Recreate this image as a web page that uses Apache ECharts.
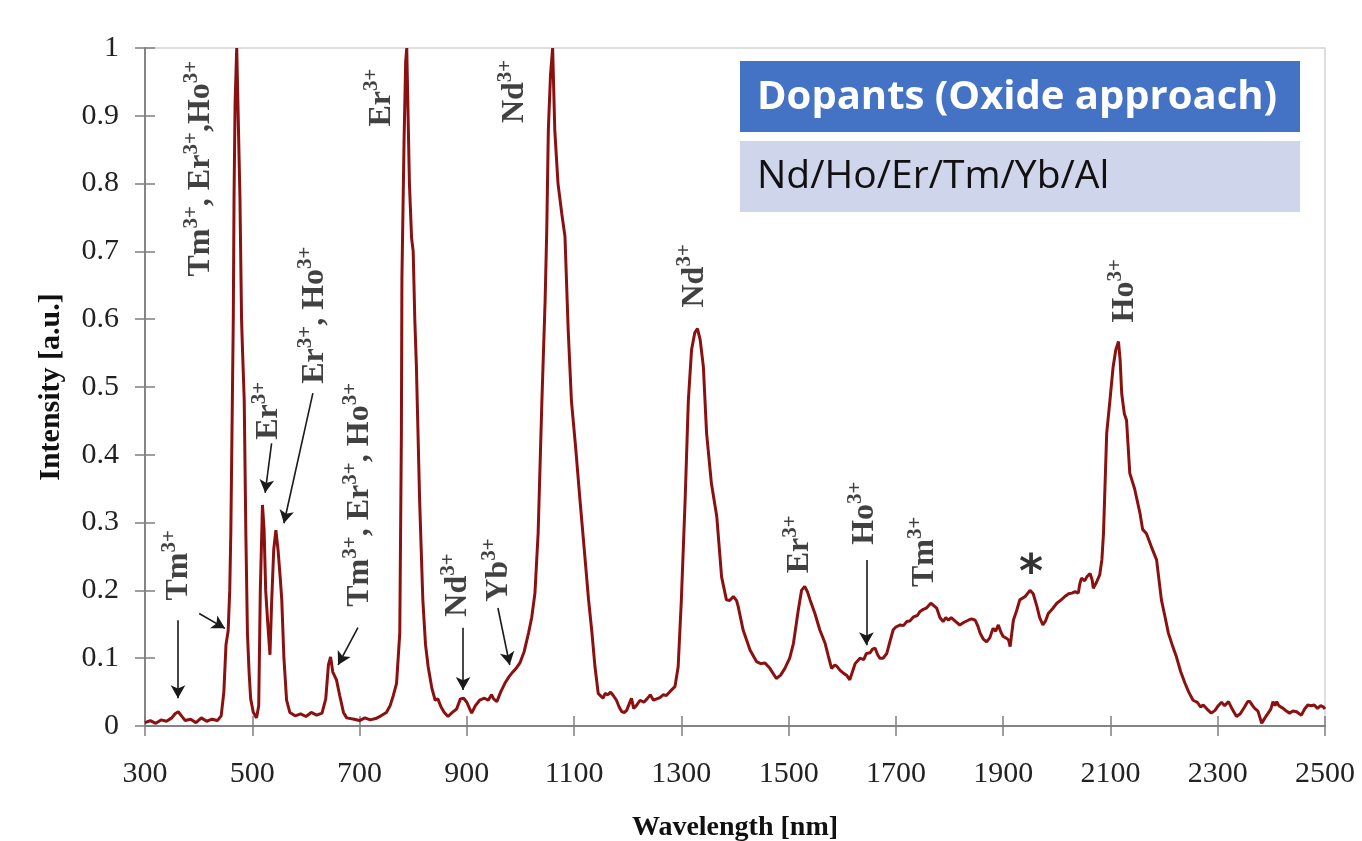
<!DOCTYPE html>
<html>
<head>
<meta charset="utf-8">
<script src="https://cdn.jsdelivr.net/npm/echarts@6/dist/echarts.min.js"></script>
<style>
  html, body { margin: 0; padding: 0; background: #fff; }
  #chart { width: 1362px; height: 841px; }
</style>
</head>
<body>
<div id="chart"></div>
<script>
// wavelength [nm] / intensity [a.u.]
const spectrum = [
  [300,0.005],[310,0.008],[320,0.004],[330,0.009],[340,0.007],[350,0.012],[356,0.018],[362,0.021],[368,0.015],[375,0.008],
  [385,0.010],[395,0.005],[405,0.012],[415,0.007],[425,0.010],[435,0.008],[442,0.015],[447,0.050],[451,0.120],[455,0.140],
  [458,0.200],[460,0.285],[464.6,0.600],[466,0.780],[468,0.920],[471,1.0],[474,1.0],[477,0.780],[480,0.600],[482,0.550],
  [485,0.480],[488,0.285],[491,0.137],[494,0.080],[497,0.040],[502,0.020],[508,0.012],[512,0.030],[515,0.200],[519,0.326],
  [522,0.290],[525,0.200],[529,0.150],[533,0.105],[536,0.180],[540,0.260],[544,0.289],[548,0.260],[552,0.220],[555,0.186],
  [559,0.100],[564,0.038],[570,0.020],[580,0.015],[590,0.018],[600,0.014],[610,0.020],[620,0.016],[630,0.019],[637,0.040],
  [642,0.090],[646,0.102],[650,0.080],[657,0.068],[663,0.045],[670,0.020],[676,0.012],[690,0.010],[700,0.008],[710,0.012],
  [720,0.009],[730,0.011],[740,0.015],[750,0.020],[757,0.030],[763,0.045],[769,0.063],[775,0.137],[778,0.430],[779,0.660],
  [783,0.864],[786,0.980],[788,1.0],[791,0.880],[793,0.800],[797,0.720],[800,0.700],[803,0.600],[806,0.530],[812,0.333],
  [818,0.186],[823,0.120],[828,0.087],[835,0.055],[841,0.038],[846,0.040],[852,0.028],[858,0.020],[865,0.014],[873,0.020],
  [881,0.025],[888,0.040],[894,0.041],[900,0.035],[905,0.026],[909,0.019],[916,0.030],[924,0.038],[933,0.041],[940,0.038],
  [946,0.046],[950,0.040],[956,0.036],[963,0.050],[971,0.063],[978,0.072],[984,0.078],[992,0.085],[999,0.093],[1007,0.110],
  [1015,0.137],[1021,0.160],[1027,0.196],[1033,0.285],[1040,0.480],[1046,0.628],[1049,0.730],[1052,0.879],[1056,0.960],[1060,1.0],
  [1064,0.879],[1070,0.800],[1077,0.756],[1083,0.722],[1089,0.584],[1095,0.480],[1103,0.410],[1111,0.333],[1119,0.260],[1127,0.186],
  [1133,0.140],[1139,0.087],[1145,0.048],[1150,0.044],[1154,0.041],[1158,0.048],[1163,0.046],[1168,0.050],[1173,0.045],[1179,0.038],
  [1184,0.028],[1189,0.021],[1194,0.020],[1198,0.023],[1203,0.033],[1207,0.041],[1211,0.026],[1216,0.030],[1223,0.038],[1230,0.035],
  [1236,0.040],[1242,0.046],[1248,0.038],[1254,0.040],[1260,0.042],[1266,0.046],[1272,0.045],[1279,0.051],[1288,0.058],[1294,0.087],
  [1300,0.186],[1307,0.333],[1313,0.480],[1319,0.555],[1325,0.580],[1330,0.586],[1335,0.570],[1341,0.530],[1347,0.432],[1356,0.358],
  [1366,0.309],[1375,0.220],[1384,0.186],[1390,0.185],[1397,0.191],[1403,0.185],[1406,0.176],[1415,0.142],[1428,0.112],[1440,0.095],
  [1448,0.092],[1456,0.093],[1465,0.085],[1477,0.070],[1485,0.075],[1493,0.085],[1502,0.100],[1509,0.122],[1518,0.171],[1524,0.200],
  [1530,0.206],[1535,0.198],[1540,0.186],[1549,0.166],[1558,0.142],[1568,0.122],[1574,0.103],[1580,0.085],[1586,0.090],[1590,0.088],
  [1596,0.082],[1602,0.078],[1608,0.075],[1614,0.068],[1619,0.080],[1624,0.092],[1633,0.100],[1640,0.098],[1645,0.107],[1652,0.108],
  [1656,0.113],[1661,0.115],[1666,0.105],[1670,0.100],[1676,0.100],[1683,0.107],[1689,0.125],[1695,0.142],[1700,0.146],[1708,0.149],
  [1714,0.148],[1720,0.154],[1726,0.155],[1733,0.161],[1740,0.163],[1745,0.169],[1751,0.172],[1757,0.174],[1765,0.181],[1770,0.178],
  [1776,0.174],[1782,0.160],[1788,0.154],[1793,0.160],[1798,0.156],[1803,0.160],[1810,0.155],[1819,0.149],[1827,0.153],[1835,0.156],
  [1841,0.158],[1848,0.156],[1853,0.147],[1857,0.137],[1863,0.128],[1869,0.124],[1875,0.130],[1881,0.144],[1886,0.140],[1891,0.149],
  [1896,0.138],[1900,0.132],[1905,0.130],[1910,0.127],[1913,0.117],[1919,0.156],[1925,0.170],[1931,0.186],[1941,0.191],[1946,0.196],
  [1950,0.200],[1956,0.195],[1963,0.176],[1968,0.160],[1974,0.149],[1979,0.155],[1984,0.166],[1992,0.173],[2000,0.181],[2008,0.186],
  [2015,0.191],[2022,0.195],[2028,0.196],[2034,0.198],[2040,0.196],[2043,0.210],[2046,0.218],[2052,0.214],[2056,0.220],[2062,0.225],
  [2066,0.215],[2068,0.203],[2074,0.212],[2080,0.223],[2084,0.245],[2087,0.284],[2093,0.432],[2099,0.480],[2105,0.530],[2110,0.555],
  [2115,0.567],[2118,0.540],[2121,0.490],[2126,0.460],[2130,0.451],[2136,0.373],[2145,0.350],[2155,0.314],[2160,0.290],[2167,0.284],
  [2176,0.265],[2186,0.245],[2195,0.186],[2202,0.160],[2208,0.137],[2215,0.120],[2223,0.102],[2231,0.080],[2239,0.063],[2246,0.050],
  [2254,0.038],[2262,0.035],[2268,0.028],[2273,0.031],[2280,0.025],[2288,0.019],[2295,0.023],[2301,0.030],[2307,0.035],[2313,0.030],
  [2320,0.036],[2327,0.025],[2335,0.014],[2342,0.018],[2350,0.028],[2356,0.036],[2360,0.036],[2365,0.030],[2369,0.026],[2375,0.022],
  [2382,0.004],[2388,0.012],[2394,0.019],[2399,0.025],[2403,0.036],[2407,0.030],[2410,0.036],[2414,0.030],[2422,0.026],[2428,0.022],
  [2434,0.019],[2440,0.022],[2447,0.021],[2452,0.018],[2456,0.016],[2462,0.025],[2468,0.031],[2474,0.030],[2480,0.031],[2486,0.026],
  [2492,0.030],[2497,0.028],[2500,0.025]
];

const xTicks = [300, 500, 700, 900, 1100, 1300, 1500, 1700, 1900, 2100, 2300, 2500];

// peak labels: rich text, [wavelength, intensity] of the label centre
const peakLabels = [
  { text: '{m|Tm}{s|3+}', at: [363, 0.237] },
  { text: '{m|Tm}{s|3+}{m|, Er}{s|3+}{m|,Ho}{s|3+}', at: [404, 0.822] },
  { text: '{m|Er}{s|3+}', at: [531, 0.465] },
  { text: '{m|Er}{s|3+}{m|, Ho}{s|3+}', at: [617, 0.606] },
  { text: '{m|Tm}{s|3+}{m|, Er}{s|3+}{m|, Ho}{s|3+}', at: [701, 0.341] },
  { text: '{m|Er}{s|3+}', at: [741, 0.927] },
  { text: '{m|Nd}{s|3+}', at: [990, 0.936] },
  { text: '{m|Nd}{s|3+}', at: [883, 0.208] },
  { text: '{m|Yb}{s|3+}', at: [960, 0.230] },
  { text: '{m|Nd}{s|3+}', at: [1324, 0.664] },
  { text: '{m|Er}{s|3+}', at: [1521, 0.268] },
  { text: '{m|Ho}{s|3+}', at: [1642, 0.314] },
  { text: '{m|Tm}{s|3+}', at: [1754, 0.257] },
  { text: '{m|Ho}{s|3+}', at: [2127, 0.642] },
  { text: '{star|*}', at: [1952, 0.222], flat: true }
];

// arrows: from -> to, in data coordinates
const arrows = [
  [[361.5, 0.156], [361.5, 0.041]],
  [[401, 0.166], [449, 0.144]],
  [[536, 0.417], [524, 0.344]],
  [[613, 0.491], [559, 0.299]],
  [[697, 0.145], [660, 0.090]],
  [[893, 0.145], [893, 0.053]],
  [[958, 0.174], [980, 0.090]],
  [[1645, 0.245], [1645, 0.119]]
];

const serif = '"Liberation Serif", "DejaVu Serif", serif';

const chart = echarts.init(document.getElementById('chart'));

const baseX = {
  type: 'value', min: 300, max: 2500, position: 'bottom',
  splitLine: { show: false },
  axisLine: { onZero: false, lineStyle: { color: '#7f7f7f', width: 1.5 } }
};
const baseY = {
  type: 'value', min: 0, max: 1, interval: 0.1, position: 'left',
  splitLine: { show: false },
  axisLine: { onZero: false, lineStyle: { color: '#7f7f7f', width: 1.5 } }
};

chart.setOption({
  animation: false,
  backgroundColor: '#fff',
  grid: {
    left: 145, right: 37, top: 48, bottom: 115,
    show: true, borderColor: '#d4d4d4', borderWidth: 1.5,
    outerBoundsMode: 'none'
  },
  xAxis: [
    Object.assign({}, baseX, {
      name: 'Wavelength [nm]', nameLocation: 'middle', nameGap: 88,
      nameTextStyle: { fontFamily: serif, fontWeight: 'bold', fontSize: 28, color: '#111' },
      axisTick: { show: true, inside: false, length: 10, customValues: xTicks, lineStyle: { color: '#7f7f7f', width: 1.5 } },
      axisLabel: {
        customValues: xTicks, margin: 33, fontFamily: serif, fontSize: 30, color: '#222',
        formatter: v => String(v)
      }
    }),
    Object.assign({}, baseX, {
      axisTick: { show: true, inside: true, length: 10, customValues: xTicks, lineStyle: { color: '#7f7f7f', width: 1.5 } },
      axisLabel: { show: false }
    })
  ],
  yAxis: [
    Object.assign({}, baseY, {
      name: 'Intensity [a.u.]', nameLocation: 'middle', nameGap: 79,
      nameTextStyle: { fontFamily: serif, fontWeight: 'bold', fontSize: 30, color: '#111' },
      axisTick: { show: true, inside: false, length: 10, lineStyle: { color: '#7f7f7f', width: 1.5 } },
      axisLabel: { margin: 26, fontFamily: serif, fontSize: 30, color: '#222' }
    }),
    Object.assign({}, baseY, {
      axisTick: { show: true, inside: true, length: 10, lineStyle: { color: '#7f7f7f', width: 1.5 } },
      axisLabel: { show: false }
    })
  ],
  graphic: [
    { type: 'rect', x: 740, y: 61, shape: { width: 560, height: 71 }, style: { fill: '#4472C4' } },
    { type: 'text', x: 757, y: 98, style: { text: 'Dopants (Oxide approach)', fill: '#fff', font: 'bold 40px "Open Sans", sans-serif', verticalAlign: 'middle' } },
    { type: 'rect', x: 740, y: 141, shape: { width: 560, height: 71 }, style: { fill: '#CFD5EA' } },
    { type: 'text', x: 757, y: 177, style: { text: 'Nd/Ho/Er/Tm/Yb/Al', fill: '#111', font: '39px "Open Sans", sans-serif', verticalAlign: 'middle' } }
  ],
  series: [
    {
      type: 'line',
      data: spectrum,
      showSymbol: false,
      lineStyle: { color: '#8b1111', width: 3 },
      markLine: {
        silent: true,
        symbol: ['none', 'arrow'],
        symbolSize: [11, 13],
        label: { show: false },
        lineStyle: { color: '#1a1a1a', width: 1.6, type: 'solid' },
        itemStyle: { color: '#1a1a1a' },
        data: arrows.map(a => [{ coord: a[0] }, { coord: a[1] }])
      },
      z: 2
    },
    {
      type: 'scatter',
      symbolSize: 0,
      silent: true,
      z: 5,
      data: peakLabels.map(p => ({
        value: p.at,
        label: {
          show: true,
          position: 'inside',
          rotate: p.flat ? 0 : 90,
          formatter: p.text,
          rich: {
            m: { fontFamily: serif, fontWeight: 'bold', fontSize: 32, color: '#111', lineHeight: 40, verticalAlign: 'middle' },
            s: { fontFamily: serif, fontWeight: 'bold', fontSize: 21, color: '#111', verticalAlign: 'top' },
            star: { fontFamily: '"DejaVu Sans", sans-serif', fontWeight: 'bold', fontSize: 46, color: '#000' }
          }
        }
      }))
    }
  ]
});
</script>
</body>
</html>
